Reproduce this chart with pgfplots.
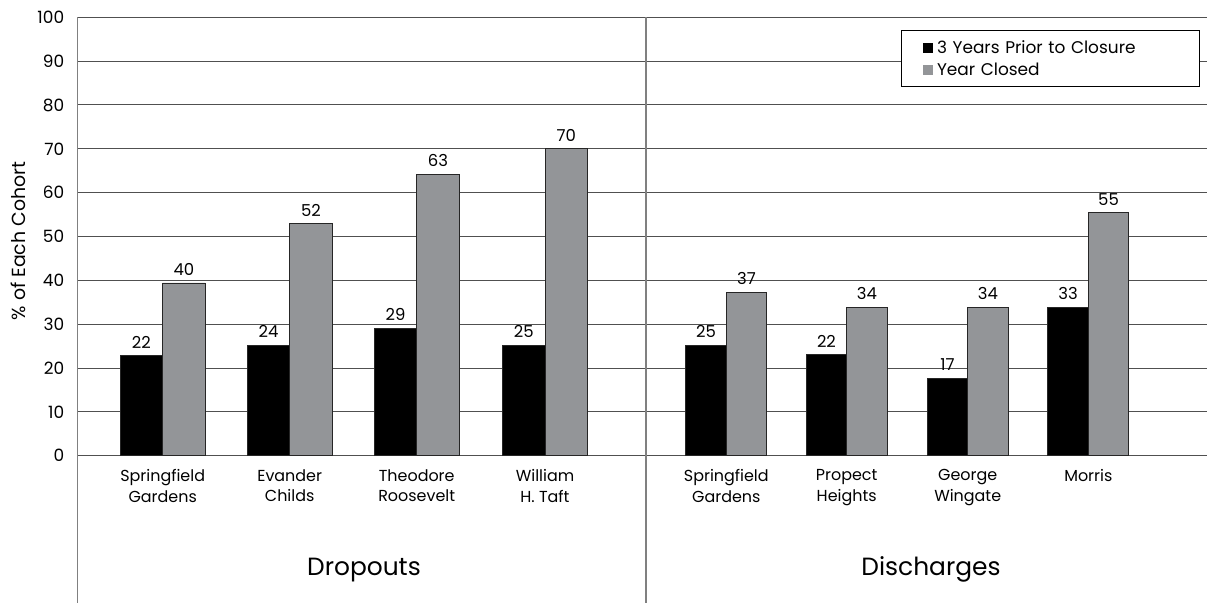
\documentclass[border=0pt]{standalone}
\usepackage{fontspec}
\setmainfont{Poppins}
\usepackage{pgfplots}
\pgfplotsset{compat=1.18}
\definecolor{bargray}{RGB}{147,149,152}
\definecolor{gridc}{RGB}{80,80,80}
\definecolor{sepc}{RGB}{128,128,128}
\begin{document}
\begin{tikzpicture}
\begin{axis}[
  name=ax,
  scale only axis,
  width=1129.3bp, height=438.4bp,
  xmin=77.7, xmax=1207,
  ymin=0, ymax=100,
  ytick={0,10,...,100},
  xtick={162.7,289.7,416.7,545,726.3,846.7,967.7,1088.3},
  xticklabels={Springfield\\Gardens, Evander\\Childs, Theodore\\Roosevelt, William\\H. Taft, Springfield\\Gardens, Propect\\Heights, George\\Wingate, Morris},
  major tick length=0pt,
  axis line style={draw=none},
  ymajorgrids,
  grid style={gridc, line width=1bp},
  /pgf/number format/assume math mode=true,
  yticklabel style={font=\fontsize{17}{20}\selectfont, xshift=-10bp},
  xticklabel style={font=\fontsize{16}{21}\selectfont, align=center, yshift=-10bp},
  ylabel={\% of Each Cohort},
  ylabel style={font=\fontsize{19}{22}\selectfont, at={(axis description cs:-0.0529,0.49)}, anchor=center},
  clip=false,
  legend cell align=left,
  legend style={at={(axis cs:900.7,97.1)}, anchor=north west, draw=black, line width=1bp,
    font=\fontsize{17}{20}\selectfont, inner xsep=8bp, inner ysep=9bp,
    nodes={text width=252bp, align=left, inner ysep=1bp}, row sep=6bp},
  legend image code/.code={\fill[#1, draw=none] (13bp,-5bp) rectangle (23bp,5bp); \path (0bp,0bp) (25bp,0bp);},
  every node near coord/.append style={font=\fontsize{16.5}{18}\selectfont, anchor=south, yshift=4bp, black},
]
\addplot[ybar, bar width=42.5, fill=black, draw=black!85, line width=0.8bp,
  point meta=explicit symbolic, nodes near coords]
  coordinates {(141.45,22.8) [22] (268.45,25.1) [24] (395.45,29.1) [29] (523.75,25.1) [25]};
\addlegendentry{3 Years Prior to Closure}
\addplot[ybar, bar width=42.5, fill=bargray, draw=black!85, line width=0.8bp,
  point meta=explicit symbolic, nodes near coords]
  coordinates {(183.95,39.4) [40] (310.95,52.9) [52] (437.95,64.2) [63] (566.25,70.0) [70]};
\addlegendentry{Year Closed}
\addplot[ybar, bar width=40.5, fill=black, draw=black!85, line width=0.8bp,
  point meta=explicit symbolic, nodes near coords, forget plot]
  coordinates {(706.05,25.1) [25] (826.45,23.0) [22] (947.45,17.6) [17] (1068.05,33.8) [33]};
\addplot[ybar, bar width=40.5, fill=bargray, draw=black!85, line width=0.8bp,
  point meta=explicit symbolic, nodes near coords, forget plot]
  coordinates {(746.55,37.3) [37] (866.95,33.8) [34] (987.95,33.8) [34] (1108.55,55.4) [55]};
\draw[sepc, line width=1.3bp] (axis cs:77.7,100) -- (axis cs:77.7,-34);
\draw[sepc, line width=1.3bp] (axis cs:646,100) -- (axis cs:646,-34);
\node[anchor=base, font=\fontsize{25}{30}\selectfont] at (axis cs:364,-27.4) {Dropouts};
\node[anchor=base, font=\fontsize{25}{30}\selectfont] at (axis cs:931,-27.4) {Discharges};
\end{axis}
\pgfresetboundingbox
\path ([xshift=-77.7bp,yshift=-147.3bp]ax.south west) rectangle ([yshift=17.3bp]ax.north east);
\end{tikzpicture}
\end{document}
